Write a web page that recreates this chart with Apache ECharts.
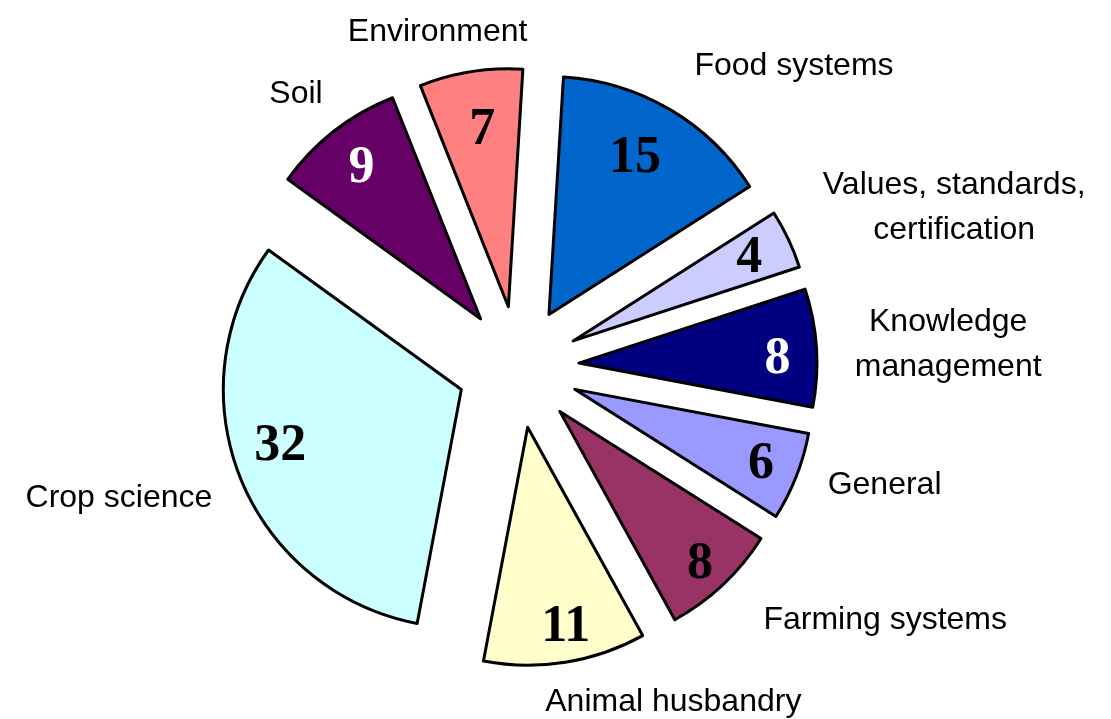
<!DOCTYPE html>
<html>
<head>
<meta charset="utf-8">
<title>Topics pie</title>
<script src="https://cdn.jsdelivr.net/npm/echarts@6/dist/echarts.min.js"></script>
<style>
  html, body { margin: 0; padding: 0; background: #fff; }
  #chart { width: 1111px; height: 719px; }
</style>
</head>
<body>
<div id="chart"></div>
<script>
// data, clockwise from 12 o'clock
const categories = ['Food systems', 'Values, standards, certification', 'Knowledge management', 'General',
  'Farming systems', 'Animal husbandry', 'Crop science', 'Soil', 'Environment'];
const values = [15, 4, 8, 6, 8, 11, 32, 9, 7];
const nameLabels = ['Food systems', 'Values, standards,\ncertification', 'Knowledge\nmanagement', 'General',
  'Farming systems', 'Animal husbandry', 'Crop science', 'Soil', 'Environment'];

// styles
const colors = ['#0066CC', '#CCCCFF', '#000080', '#9999FF', '#993366', '#FFFFCC', '#CCFFFF', '#660066', '#FF8080'];
const valueColors = ['#000', '#000', '#fff', '#000', '#000', '#000', '#000', '#fff', '#000'];
// small label nudges (px) to match the hand placed labels
const valueNudge = [[-14, 14], [-2, 2], [2, 9], [3, 3], [5, 10], [7, 6], [2, -16], [2, 5], [5, 18]];
const nameNudge = [[76, 39], [80, 9], [37, 3], [0, -26], [97, -34], [93, -54], [-33, -15], [20, 38], [-18, 54]];

const chart = echarts.init(document.getElementById('chart'));

const base = {
  type: 'pie',
  center: [518, 367],
  startAngle: 86.5,
  clockwise: true,
  selectedMode: 'multiple',
  selectedOffset: 61,
  silent: true,
  avoidLabelOverlap: false,
  labelLine: { show: false },
  emphasis: { disabled: true },
  animation: false
};

chart.setOption({
  backgroundColor: '#fff',
  series: [
    Object.assign({}, base, {
      radius: [0, 238],
      label: { show: false },
      data: values.map((v, i) => ({
        value: v, name: categories[i], selected: true,
        itemStyle: { color: colors[i], borderColor: '#000', borderWidth: 3 }
      }))
    }),
    // value labels
    Object.assign({}, base, {
      radius: [150, 238],
      itemStyle: { color: 'rgba(0,0,0,0)', borderWidth: 0 },
      label: {
        show: true, position: 'inside', formatter: '{c}',
        fontFamily: 'Liberation Serif', fontWeight: 'bold', fontSize: 52
      },
      labelLayout: p => ({ dx: valueNudge[p.dataIndex][0], dy: valueNudge[p.dataIndex][1] }),
      data: values.map((v, i) => ({
        value: v, name: categories[i], selected: true,
        label: { color: valueColors[i] }
      }))
    }),
    // category labels
    Object.assign({}, base, {
      radius: [300, 360],
      itemStyle: { color: 'rgba(0,0,0,0)', borderWidth: 0 },
      label: {
        show: true, position: 'inside',
        formatter: p => nameLabels[p.dataIndex],
        fontFamily: 'Liberation Sans', fontSize: 32, lineHeight: 45, color: '#000', align: 'center'
      },
      labelLayout: p => ({ dx: nameNudge[p.dataIndex][0], dy: nameNudge[p.dataIndex][1] }),
      data: values.map((v, i) => ({ value: v, name: categories[i], selected: true }))
    })
  ]
});
</script>
</body>
</html>
